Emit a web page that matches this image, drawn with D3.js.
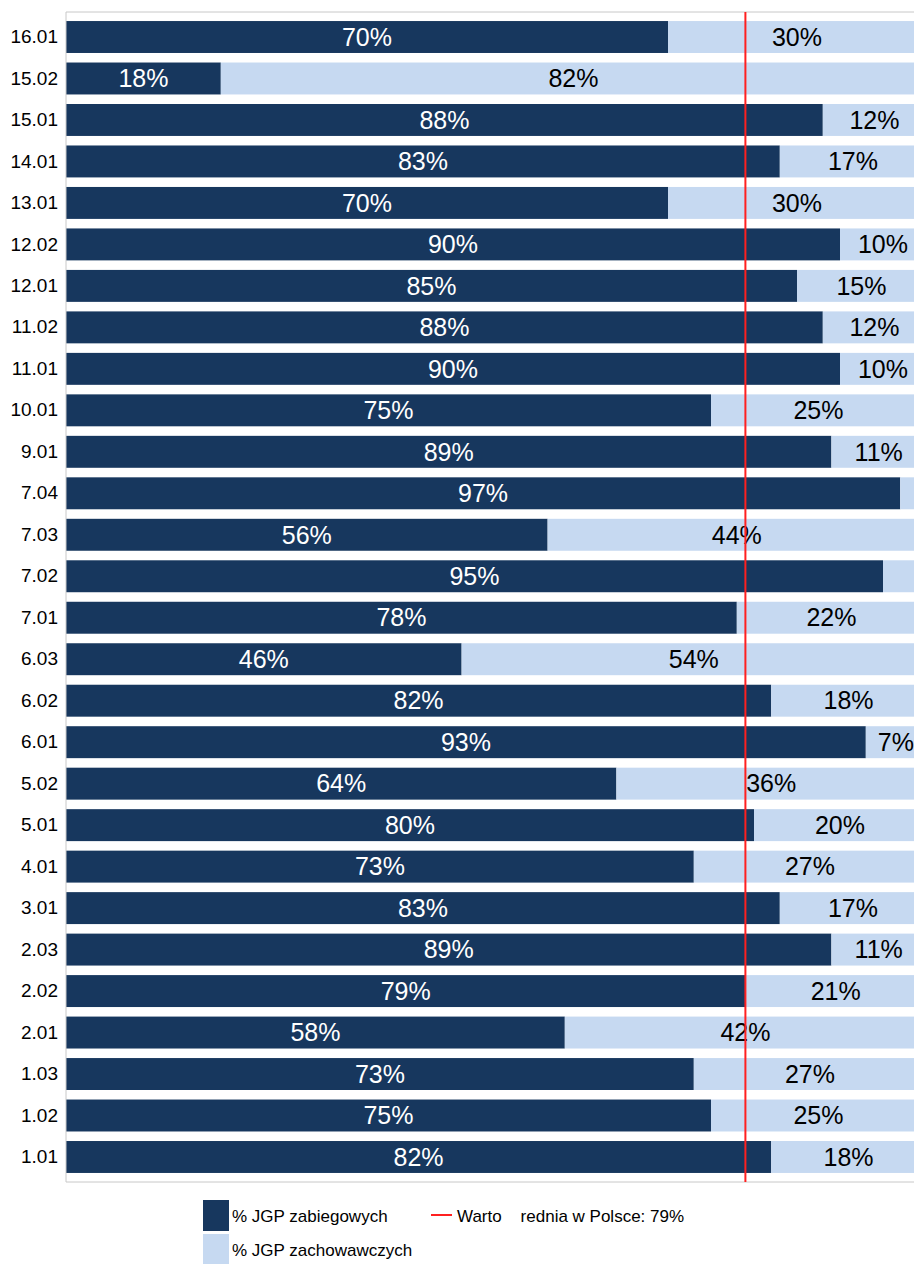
<!DOCTYPE html>
<html><head><meta charset="utf-8">
<script src="https://cdn.jsdelivr.net/npm/d3@7"></script>
<style>body{margin:0;background:#fff;} svg{display:block;font-family:"Liberation Sans",Arial,sans-serif;}</style>
</head><body>
<script>
const categories = ["16.01","15.02","15.01","14.01","13.01","12.02","12.01","11.02","11.01","10.01","9.01","7.04","7.03","7.02","7.01","6.03","6.02","6.01","5.02","5.01","4.01","3.01","2.03","2.02","2.01","1.03","1.02","1.01"];
const zabiegowych = [70,18,88,83,70,90,85,88,90,75,89,97,56,95,78,46,82,93,64,80,73,83,89,79,58,73,75,82];
const zachowawczych = [30,82,12,17,30,10,15,12,10,25,11,3,44,5,22,54,18,7,36,20,27,17,11,21,42,27,25,18];
const averageValue = 79;
const seriesNames = ["% JGP zabiegowych","% JGP zachowawczych"];
const avgLabel = "Warto\u00a0\u00a0\u00a0\u00a0rednia w Polsce: 79%";

const W = 914, H = 1264;
const dark = "#17375e", light = "#c6d9f1", red = "#ff2020", grid = "#c8c8c8";
const svg = d3.select("body").append("svg").attr("width", W).attr("height", H);

const x = d3.scaleLinear().domain([0,100]).range([66, 926]);
const y = d3.scaleBand().domain(categories).range([11.5, 1182.5]).paddingInner(0.23).paddingOuter(0.23);

const rows = categories.map((c,i)=>({c, a: zabiegowych[i], b: zachowawczych[i]}));

// bars
const g = svg.append("g");
g.selectAll("rect.a").data(rows).join("rect")
  .attr("x", x(0)).attr("y", d=>y(d.c)).attr("width", d=>x(d.a)-x(0)).attr("height", y.bandwidth()).attr("fill", dark);
g.selectAll("rect.b").data(rows).join("rect")
  .attr("x", d=>x(d.a)).attr("y", d=>y(d.c)).attr("width", d=>x(d.a+d.b)-x(d.a)).attr("height", y.bandwidth()).attr("fill", light);

// frame
svg.append("line").attr("x1",66).attr("x2",W).attr("y1",12).attr("y2",12).attr("stroke",grid).attr("stroke-width",1);
svg.append("line").attr("x1",66).attr("x2",W).attr("y1",1182).attr("y2",1182).attr("stroke",grid).attr("stroke-width",1);
svg.append("line").attr("x1",66).attr("x2",66).attr("y1",12).attr("y2",1182).attr("stroke",grid).attr("stroke-width",1);

// labels
g.selectAll("text.a").data(rows).join("text")
  .attr("x", d=>(x(0)+x(d.a))/2).attr("y", d=>y(d.c)+y.bandwidth()/2).attr("dy","0.35em")
  .attr("text-anchor","middle").attr("fill","#fff").attr("font-size",25).text(d=>d.a+"%");
g.selectAll("text.b").data(rows.filter(d=>d.b>=6)).join("text")
  .attr("x", d=>(x(d.a)+x(d.a+d.b))/2).attr("y", d=>y(d.c)+y.bandwidth()/2).attr("dy","0.35em")
  .attr("text-anchor","middle").attr("fill","#000").attr("font-size",25).text(d=>d.b+"%");

// average line
svg.append("line").attr("x1",x(averageValue)).attr("x2",x(averageValue)).attr("y1",12).attr("y2",1182)
  .attr("stroke",red).attr("stroke-width",2);

// y axis labels
const yAxis = d3.axisLeft(y).tickSize(0).tickPadding(8);
const ya = svg.append("g").attr("transform","translate(66,0)").call(yAxis);
ya.select(".domain").remove();
ya.attr("font-size",null).attr("font-family",null);
ya.selectAll("text").attr("font-size",19).attr("fill","#000");

// legend
const lg = svg.append("g");
lg.append("rect").attr("x",203).attr("y",1200).attr("width",26).attr("height",31).attr("fill",dark);
lg.append("text").attr("x",232).attr("y",1222).attr("font-size",17).text(seriesNames[0]);
lg.append("rect").attr("x",203).attr("y",1234).attr("width",26).attr("height",30).attr("fill",light);
lg.append("text").attr("x",232).attr("y",1256).attr("font-size",17).text(seriesNames[1]);
lg.append("line").attr("x1",431).attr("x2",452).attr("y1",1215).attr("y2",1215).attr("stroke",red).attr("stroke-width",2);
lg.append("text").attr("x",457).attr("y",1222).attr("font-size",17).text(avgLabel);
</script>
</body></html>
